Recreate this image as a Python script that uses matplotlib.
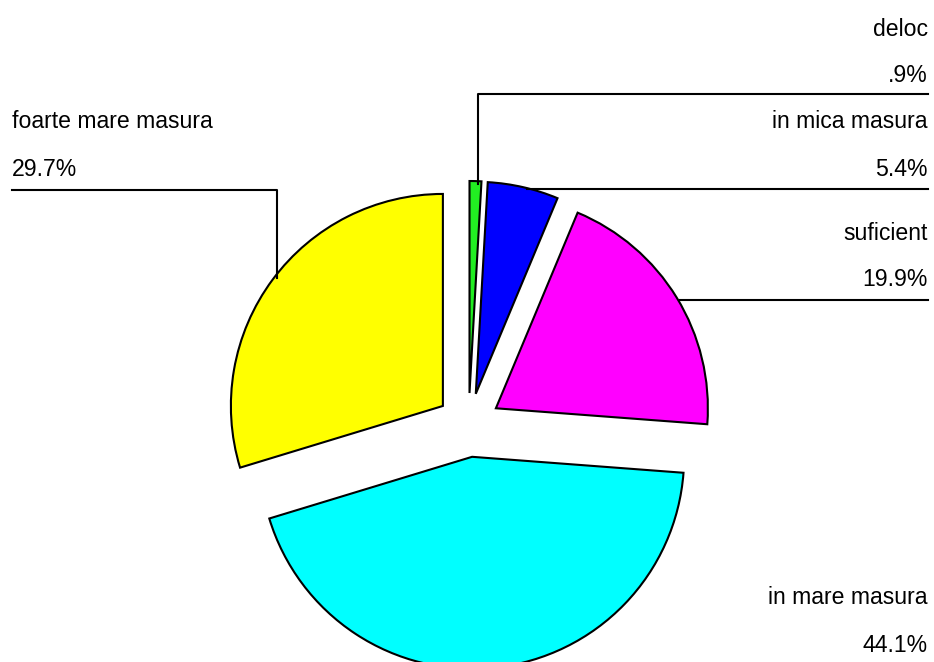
import matplotlib.pyplot as plt

plt.rcParams['font.family'] = ['Liberation Sans', 'DejaVu Sans']

# date
categorii = ['deloc', 'in mica masura', 'suficient', 'in mare masura', 'foarte mare masura']
procente = [0.9, 5.4, 19.9, 44.1, 29.7]
etichete_proc = ['.9%', '5.4%', '19.9%', '44.1%', '29.7%']
culori = ['#22ee22', '#0000ff', '#ff00ff', '#00ffff', '#ffff00']

W, H = 934, 662
fig = plt.figure(figsize=(W / 100, H / 100), dpi=100)
ax = fig.add_axes([0, 0, 1, 1])

# pixel -> coordonate (y de jos in sus)
def py(y):
    return H - y

# explode e in unitati de date (pixeli aici)
ax.pie(procente, colors=culori, startangle=90, counterclock=False,
       center=(468.6, py(425)), radius=212, explode=[32] * len(procente),
       wedgeprops=dict(edgecolor='black', linewidth=1.5))

ax.set_xlim(0, W)
ax.set_ylim(0, H)
ax.set_aspect('equal')
ax.axis('off')

fs = 16.6
# etichete in dreapta
right = [(0, 30, 76), (1, 122, 170), (2, 233, 280), (3, 598, 645)]
for i, y1, y2 in right:
    ax.text(928, py(y1), categorii[i], ha='right', va='center', fontsize=fs)
    ax.text(928, py(y2), etichete_proc[i], ha='right', va='center', fontsize=fs)
# eticheta in stanga
ax.text(12, py(122), categorii[4], ha='left', va='center', fontsize=fs)
ax.text(12, py(170), etichete_proc[4], ha='left', va='center', fontsize=fs)

# linii de legatura
lk = dict(color='black', linewidth=1.5)
ax.plot([478, 478, 928], [py(184), py(94), py(94)], **lk)
ax.plot([527, 928], [py(189), py(189)], **lk)
ax.plot([680, 928], [py(300), py(300)], **lk)
ax.plot([277, 277, 12], [py(278), py(190), py(190)], **lk)

fig.savefig('out.png', dpi=100)
